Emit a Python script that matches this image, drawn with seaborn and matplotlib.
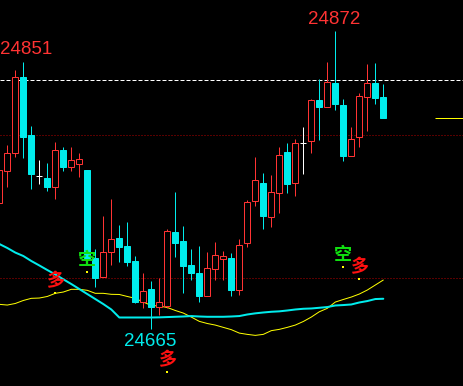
import matplotlib
matplotlib.use("Agg")
import matplotlib.pyplot as plt
import pandas as pd
import seaborn as sns

# ---------------- data ----------------
idx = list(range(-1, 48))
opens = [24752.9, 24775.2, 24787.4, 24841.0, 24800.2, 24771.5, 24769.9, 24764.1, 24789.7, 24778.0,
         24779.9, 24775.7, 24714.0, 24701.1, 24718.6, 24728.0, 24722.6, 24712.1, 24683.6, 24692.3,
         24680.1, 24680.8, 24732.4, 24726.1, 24709.3, 24703.7, 24687.8, 24706.7, 24713.7, 24714.2,
         24691.8, 24724.9, 24754.3, 24766.9, 24743.1, 24759.9, 24788.3, 24766.9, 24794.4, 24796.2,
         24824.7, 24820.0, 24836.6, 24821.2, 24785.7, 24799.0, 24827.0, 24836.6, 24826.8]
highs = [24779.0, 24793.2, 24845.7, 24851.3, 24806.5, 24782.7, 24780.4, 24795.3, 24791.6, 24792.0,
         24787.8, 24775.7, 24720.5, 24743.6, 24755.5, 24737.3, 24739.4, 24715.6, 24703.5, 24698.1,
         24700.2, 24734.5, 24760.3, 24736.6, 24720.5, 24722.6, 24718.4, 24725.4, 24719.1, 24717.7,
         24727.5, 24754.8, 24785.0, 24773.6, 24772.2, 24791.8, 24794.6, 24797.4, 24805.8, 24825.4,
         24839.4, 24851.3, 24872.9, 24825.4, 24805.8, 24829.6, 24849.9, 24850.6, 24835.9]
lows = [24751.0, 24764.1, 24785.0, 24784.3, 24762.7, 24765.9, 24761.3, 24755.7, 24775.2, 24775.2,
        24771.0, 24711.4, 24694.1, 24701.1, 24709.3, 24711.6, 24708.8, 24682.5, 24679.0, 24664.5,
        24674.3, 24679.0, 24715.1, 24689.9, 24698.8, 24683.6, 24687.8, 24698.8, 24698.8, 24687.6,
        24688.3, 24722.1, 24750.6, 24734.5, 24736.1, 24745.9, 24759.9, 24757.8, 24773.1, 24787.8,
        24796.7, 24820.0, 24817.9, 24782.2, 24785.7, 24792.0, 24803.2, 24822.1, 24812.3]
closes = [24775.7, 24787.4, 24840.6, 24799.0, 24773.1, 24771.5, 24764.1, 24789.7, 24778.0, 24782.7,
          24783.4, 24714.2, 24700.0, 24718.2, 24727.3, 24722.1, 24711.6, 24683.6, 24690.9, 24680.1,
          24683.2, 24733.1, 24724.9, 24708.8, 24703.9, 24687.8, 24707.2, 24716.1, 24715.4, 24691.8,
          24723.3, 24753.4, 24768.7, 24743.6, 24760.3, 24786.2, 24765.9, 24794.6, 24794.4, 24824.7,
          24820.0, 24837.3, 24822.1, 24785.7, 24797.4, 24827.3, 24836.6, 24826.3, 24812.3]

line_cyan = [24724.0, 24721.2, 24718.0, 24715.6, 24712.1, 24709.0, 24705.8, 24702.7, 24699.3, 24696.0,
             24692.5, 24689.0, 24685.5, 24682.0, 24678.2, 24672.6, 24672.6, 24672.6, 24672.6, 24672.6,
             24672.7, 24672.9, 24673.1, 24673.3, 24673.6, 24673.3, 24673.1, 24673.1, 24673.1, 24673.3,
             24673.6, 24674.7, 24675.5, 24676.1, 24676.6, 24676.9, 24677.5, 24678.2, 24678.7, 24678.9,
             24679.4, 24679.9, 24681.0, 24681.3, 24681.7, 24683.1, 24684.1, 24685.5, 24685.7]
line_yellow = [24681.8, 24681.3, 24682.4, 24684.5, 24686.0, 24686.2, 24687.3, 24689.5, 24690.4, 24692.3,
               24692.3, 24691.6, 24689.5, 24689.5, 24688.8, 24688.7, 24687.3, 24686.0, 24683.4, 24681.0,
               24680.6, 24679.6, 24677.5, 24675.7, 24672.9, 24669.9, 24668.4, 24667.3, 24665.7, 24664.1,
               24661.7, 24660.8, 24660.1, 24660.8, 24663.4, 24664.3, 24665.7, 24667.3, 24669.8, 24672.9,
               24676.6, 24679.0, 24683.4, 24685.2, 24686.9, 24689.0, 24691.8, 24695.3, 24698.8]

dashed_level = 24838.5
dotted_levels = [24800, 24700]

price_labels = ["24851", "24872", "24665"]
price_label_idx = [2, 41, 18]
price_label_val = [24851.3, 24872.9, 24664.5]
price_label_side = ["top", "top", "bottom"]

signal_text = ["多", "空", "多", "空", "多"]
signal_idx = [6, 10, 20, 42, 44]
signal_price = [24689.5, 24704.6, 24634.7, 24708.1, 24699.7]
signal_kind = ["long", "short", "long", "short", "long"]

# ---------------- drawing ----------------
PX = 0.72  # one pixel in points at dpi 100
RED = "#ff3333"
CYAN = "#00ecec"

sns.set_theme(style="dark")
plt.rcParams["font.family"] = ["DejaVu Sans"]

fig = plt.figure(figsize=(4.64, 3.86), dpi=100, facecolor="black")
ax = fig.add_axes([0, 0, 1, 1])
ax.set_facecolor("black")

df = pd.DataFrame({"i": idx, "o": opens, "h": highs, "l": lows, "c": closes,
                   "ma1": line_cyan, "ma2": line_yellow})

# reference levels
for lv in dotted_levels:
    ax.axhline(lv, color="#b00000", lw=PX, dashes=(1, 2), zorder=1)
ax.axhline(dashed_level, color="white", lw=PX, dashes=(4, 2), zorder=1)

# indicator lines
sns.lineplot(data=df, x="i", y="ma2", ax=ax, color="#ffff00", lw=PX, zorder=2)
sns.lineplot(data=df, x="i", y="ma1", ax=ax, color=CYAN, lw=2 * PX, zorder=2)

# candles
W = 0.78
for _, r in df.iterrows():
    if abs(r.c - r.o) < 1e-9:
        col = "white"
    elif r.c > r.o:
        col = RED
    else:
        col = CYAN
    ax.vlines(r.i, r.l, r.h, color=col, lw=PX, zorder=3)
    if col == "white":
        ax.hlines(r.o, r.i - W / 2, r.i + W / 2, color=col, lw=PX, zorder=4)
    elif col == RED:
        ax.bar(r.i, r.c - r.o, bottom=r.o, width=W, facecolor="black",
               edgecolor=RED, lw=PX, zorder=4)
    else:
        ax.bar(r.i, r.o - r.c, bottom=r.c, width=W, facecolor=CYAN,
               edgecolor=CYAN, lw=PX, zorder=4)

# last price marker line
ax.hlines(closes[-1], 53.5, 58, color="#ffff00", lw=PX, zorder=2)

# extreme labels
num_font = ["Liberation Sans Narrow", "Liberation Sans", "DejaVu Sans"]
xmin = -0.9125
for t, i, v, side in zip(price_labels, price_label_idx, price_label_val, price_label_side):
    col = RED if side == "top" else CYAN
    off = 12 * PX if side == "top" else -12 * PX
    # keep the label inside the chart when the extreme is near the left edge
    if i + xmin < 2.5:
        ax.annotate(t, (xmin, v), xytext=(0, off), textcoords="offset points",
                    ha="left", va="center", color=col, fontsize=13.5,
                    family=num_font, zorder=6)
    else:
        ax.annotate(t, (i, v), xytext=(-1.5 * PX, off), textcoords="offset points",
                    ha="center", va="center", color=col, fontsize=13.5,
                    family=num_font, zorder=6)

# signals
for t, i, p, k in zip(signal_text, signal_idx, signal_price, signal_kind):
    col = "#ff1010" if k == "long" else "#10e010"
    ax.scatter([i], [p], s=3, marker="s", color="#ffff00", linewidths=0, zorder=6)
    ax.annotate(t, (i, p), xytext=(-0.7 * PX, 12.5 * PX), textcoords="offset points",
                ha="center", va="center", color=col, fontsize=13, fontweight="bold",
                family=["Noto Sans CJK SC", "DejaVu Sans"], zorder=6)

ax.set_xlim(xmin, 57.0875)
ax.set_ylim(24624.7, 24894.6)
ax.set_axis_off()

fig.savefig("out.png", dpi=100, facecolor="black")
